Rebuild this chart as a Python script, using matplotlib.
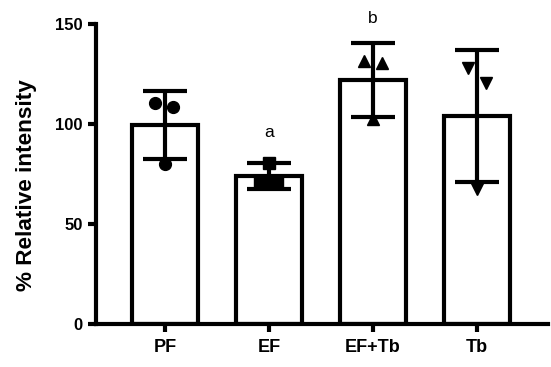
import numpy as np
import matplotlib.pyplot as plt

plt.rcParams['font.family'] = ['Liberation Sans', 'DejaVu Sans']

groups = ["PF", "EF", "EF+Tb", "Tb"]
means = [99.5, 74.0, 122.0, 104.0]
sds = [17.0, 6.3, 18.5, 33.0]
points = [
    [110.5, 108.5, 80.0],
    [80.5, 70.5, 71.5],
    [131.5, 130.5, 102.5],
    [128.0, 120.5, 67.5],
]
jitter = [[-0.1, 0.08, 0.0], [0.0, -0.09, 0.08], [-0.09, 0.09, 0.0], [-0.09, 0.09, 0.0]]
markers = ["o", "s", "^", "v"]
# significance letters (group, letter, baseline height)
letters = [("EF", "a", 93.5), ("EF+Tb", "b", 150.5)]

fig = plt.figure(figsize=(5.51, 3.67), dpi=100)
ax = fig.add_axes([0.1737, 0.1172, 0.8203, 0.8174])

x = np.arange(len(groups))
lw = 3.0
ax.bar(x, means, width=0.64, facecolor="white", edgecolor="black", linewidth=lw, zorder=2)
ax.errorbar(x, means, yerr=sds, fmt="none", ecolor="black", elinewidth=lw,
            capsize=15.5, capthick=lw, zorder=3)
for i, g in enumerate(groups):
    ax.plot(x[i] + np.array(jitter[i]), points[i], markers[i], color="black",
            markersize=8.5 if markers[i] == "o" else 8, zorder=4, clip_on=False)
for g, letter, yb in letters:
    ax.text(groups.index(g), yb, letter, ha="center", va="baseline",
            fontsize=12.5, clip_on=False)

ax.set_xlim(-0.666, 3.68)
ax.set_ylim(0, 150)
ax.set_yticks([0, 50, 100, 150])
ax.set_xticks(x)
ax.set_xticklabels(groups, fontsize=13, fontweight="bold")
for lab in ax.get_yticklabels():
    lab.set_fontsize(12)
    lab.set_fontweight("bold")
ax.set_ylabel("% Relative intensity", fontsize=16.2, fontweight="bold")
ax.yaxis.set_label_coords(-0.129, 0.463)

for s in ["top", "right"]:
    ax.spines[s].set_visible(False)
for s in ["left", "bottom"]:
    ax.spines[s].set_linewidth(lw)
ax.tick_params(axis="both", width=lw, length=6)
ax.tick_params(axis="x", pad=5)

fig.savefig("out.png", dpi=100)
